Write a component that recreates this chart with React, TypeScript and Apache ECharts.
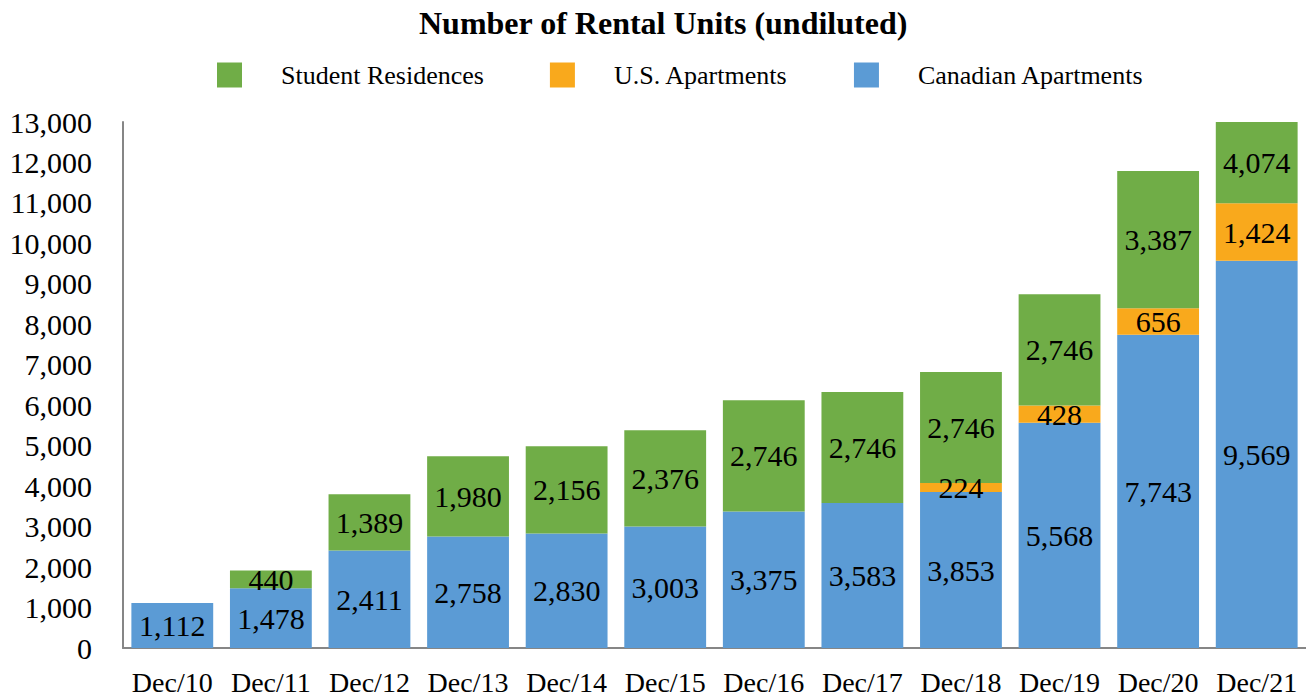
import React, { useEffect, useRef } from "react";
import * as echarts from "echarts";

const categories = ["Dec/10","Dec/11","Dec/12","Dec/13","Dec/14","Dec/15","Dec/16","Dec/17","Dec/18","Dec/19","Dec/20","Dec/21"];
const canadian = [1112, 1478, 2411, 2758, 2830, 3003, 3375, 3583, 3853, 5568, 7743, 9569];
const usApts = [null, null, null, null, null, null, null, null, 224, 428, 656, 1424];
const student = [null, 440, 1389, 1980, 2156, 2376, 2746, 2746, 2746, 2746, 3387, 4074];

const FONT = "'Liberation Serif', 'Times New Roman', serif";

export default function App() {
  const ref = useRef<HTMLDivElement>(null);
  useEffect(() => {
    const chart = echarts.init(ref.current!, null, { renderer: "svg" });
    const label = {
      show: true,
      position: "inside",
      color: "#000",
      fontFamily: FONT,
      fontSize: 30,
      formatter: (p: any) => (p.value == null ? "" : Number(p.value).toLocaleString("en-US")),
    };
    chart.setOption({
      animation: false,
      title: {
        text: "Number of Rental Units (undiluted)",
        left: 414,
        top: 2,
        textStyle: { fontFamily: FONT, fontSize: 32, fontWeight: "bold", color: "#000" },
      },
      legend: {
        top: 57,
        left: 212,
        itemWidth: 25,
        itemHeight: 25,
        itemGap: 66,
        icon: "rect",
        data: ["Student Residences", "U.S. Apartments", "Canadian Apartments"],
        textStyle: { fontFamily: FONT, fontSize: 26, color: "#000", padding: [0, 0, 0, 34] },
      },
      grid: { left: 123, right: 0, top: 122, bottom: 48 },
      xAxis: {
        type: "category",
        data: categories,
        axisLine: { lineStyle: { color: "#868686", width: 2 } },
        axisTick: { show: false },
        axisLabel: { fontFamily: FONT, fontSize: 28, color: "#000", margin: 20, interval: 0, hideOverlap: false },
      },
      yAxis: {
        type: "value",
        min: 0,
        max: 13000,
        interval: 1000,
        splitLine: { show: false },
        axisLine: { show: true, lineStyle: { color: "#868686", width: 2 } },
        axisTick: { show: false },
        axisLabel: {
          fontFamily: FONT,
          fontSize: 30,
          color: "#000",
          margin: 31,
          formatter: (v: number) => v.toLocaleString("en-US"),
        },
      },
      series: [
        { name: "Canadian Apartments", type: "bar", stack: "a", data: canadian, barCategoryGap: "17%", itemStyle: { color: "#5B9BD5" }, label },
        { name: "U.S. Apartments", type: "bar", stack: "a", data: usApts, itemStyle: { color: "#F9A91C" }, label },
        { name: "Student Residences", type: "bar", stack: "a", data: student, itemStyle: { color: "#70AD47" }, label },
      ],
    });
    return () => chart.dispose();
  }, []);
  return <div ref={ref} style={{ position: "absolute", left: 0, top: 0, width: 1306, height: 696 }} />;
}
